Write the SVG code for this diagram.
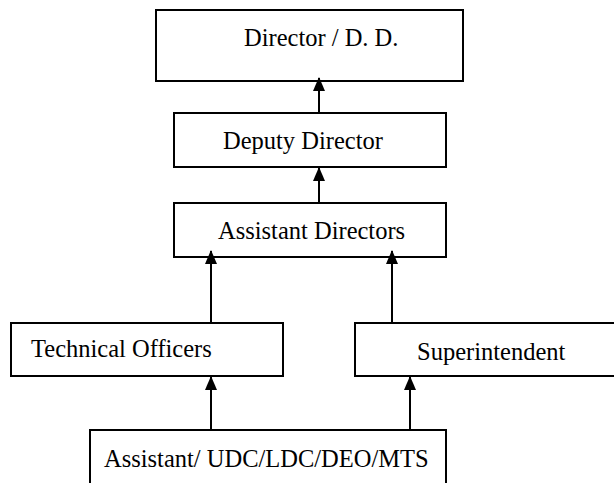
<svg xmlns="http://www.w3.org/2000/svg" width="614" height="483" viewBox="0 0 614 483">
<defs>
<style>
.box{fill:#fff;stroke:#000;stroke-width:2}
.lbl{font-family:"Liberation Serif","Times New Roman",serif;font-size:24.5px;fill:#000}
.conn{stroke:#000;stroke-width:2;fill:none}
</style>
<marker id="arr" viewBox="0 0 14 12" markerWidth="14" markerHeight="12" refX="13" refY="6" orient="auto" markerUnits="userSpaceOnUse">
<path d="M0,0 L14,6 L0,12 z" fill="#000"/>
</marker>
</defs>
<rect width="614" height="483" fill="#fff"/>
<g id="director"><rect class="box" x="156" y="10" width="307" height="71"/><text class="lbl" x="244" y="46">Director / D. D.</text></g>
<g id="deputy"><rect class="box" x="174" y="113" width="272" height="54"/><text class="lbl" x="223" y="149">Deputy Director</text></g>
<g id="assistant-directors"><rect class="box" x="174" y="203" width="272" height="54"/><text class="lbl" x="218" y="239">Assistant Directors</text></g>
<g id="technical-officers"><rect class="box" x="11" y="323" width="272" height="53"/><text class="lbl" x="31" y="357">Technical Officers</text></g>
<g id="superintendent"><rect class="box" x="355" y="323" width="270" height="53"/><text class="lbl" x="417" y="360">Superintendent</text></g>
<g id="staff"><rect class="box" x="90" y="430" width="356" height="60"/><text class="lbl" x="104" y="467">Assistant/ UDC/LDC/DEO/MTS</text></g>
<g id="connectors">
<path class="conn" d="M319,113 V78" marker-end="url(#arr)"/>
<path class="conn" d="M319,203 V168" marker-end="url(#arr)"/>
<path class="conn" d="M211,323 V251" marker-end="url(#arr)"/>
<path class="conn" d="M392,323 V251" marker-end="url(#arr)"/>
<path class="conn" d="M211,430 V377" marker-end="url(#arr)"/>
<path class="conn" d="M410,430 V377" marker-end="url(#arr)"/>
</g>
</svg>
